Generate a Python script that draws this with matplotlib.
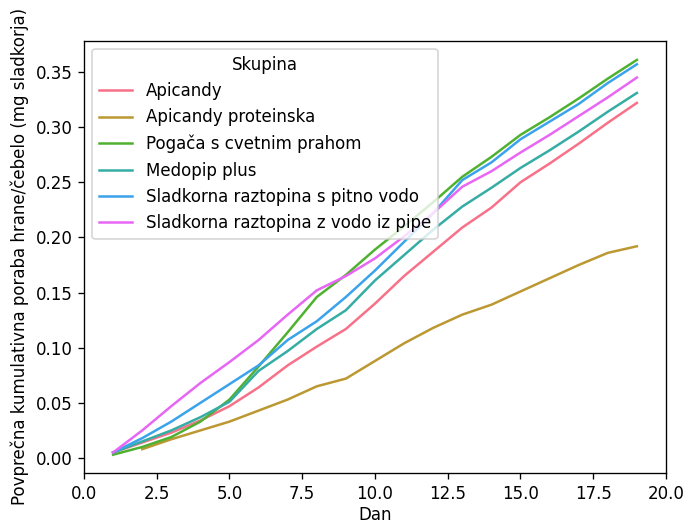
import numpy as np
import pandas as pd
import matplotlib
matplotlib.use("Agg")
import matplotlib.pyplot as plt
import seaborn as sns

dan = list(range(1, 20))

skupine = [
    "Apicandy",
    "Apicandy proteinska",
    "Pogača s cvetnim prahom",
    "Medopip plus",
    "Sladkorna raztopina s pitno vodo",
    "Sladkorna raztopina z vodo iz pipe",
]

apicandy = [0.005, 0.014, 0.023, 0.034, 0.047, 0.064, 0.084, 0.101, 0.117, 0.140, 0.165, 0.187,
            0.209, 0.227, 0.250, 0.267, 0.285, 0.304, 0.322]
proteinska = [np.nan, 0.008, 0.017, 0.025, 0.033, 0.043, 0.053, 0.065, 0.072, 0.088, 0.104, 0.118,
              0.130, 0.139, 0.151, 0.163, 0.175, 0.186, 0.192]
pogaca = [0.003, 0.010, 0.019, 0.033, 0.053, 0.083, 0.114, 0.146, 0.166, 0.189, 0.210, 0.232,
          0.255, 0.273, 0.293, 0.309, 0.326, 0.344, 0.361]
medopip = [0.005, 0.015, 0.025, 0.037, 0.051, 0.079, 0.097, 0.117, 0.134, 0.161, 0.184, 0.207,
           0.228, 0.245, 0.263, 0.279, 0.296, 0.314, 0.331]
pitna = [0.005, 0.018, 0.033, 0.050, 0.067, 0.084, 0.107, 0.124, 0.146, 0.170, 0.196, 0.222,
         0.252, 0.268, 0.289, 0.305, 0.321, 0.340, 0.357]
pipa = [0.005, 0.025, 0.047, 0.068, 0.087, 0.107, 0.130, 0.152, 0.165, 0.181, 0.201, 0.222,
        0.246, 0.260, 0.277, 0.293, 0.310, 0.327, 0.345]

vrednosti = [apicandy, proteinska, pogaca, medopip, pitna, pipa]

rows = []
for ime, vals in zip(skupine, vrednosti):
    for d, v in zip(dan, vals):
        if not np.isnan(v):
            rows.append({"Dan": d, "Poraba": v, "Skupina": ime})
df = pd.DataFrame(rows)

# rendered a bit larger than default, like the original screenshot
fig = plt.figure(figsize=(688 / 120, 523 / 120), dpi=120)
ax = fig.add_axes([0.1221, 0.0956, 0.8459, 0.8266])
sns.lineplot(data=df, x="Dan", y="Poraba", hue="Skupina", hue_order=skupine,
             palette="husl", ax=ax)

ax.set_xlim(0, 20)
ax.set_ylim(-0.0136, 0.3784)
ax.set_xlabel("Dan", labelpad=2)
ax.set_ylabel("Povprečna kumulativna poraba hrane/čebelo (mg sladkorja)")
ax.legend(title="Skupina", loc="upper left")

fig.savefig("out.png", dpi=120)
